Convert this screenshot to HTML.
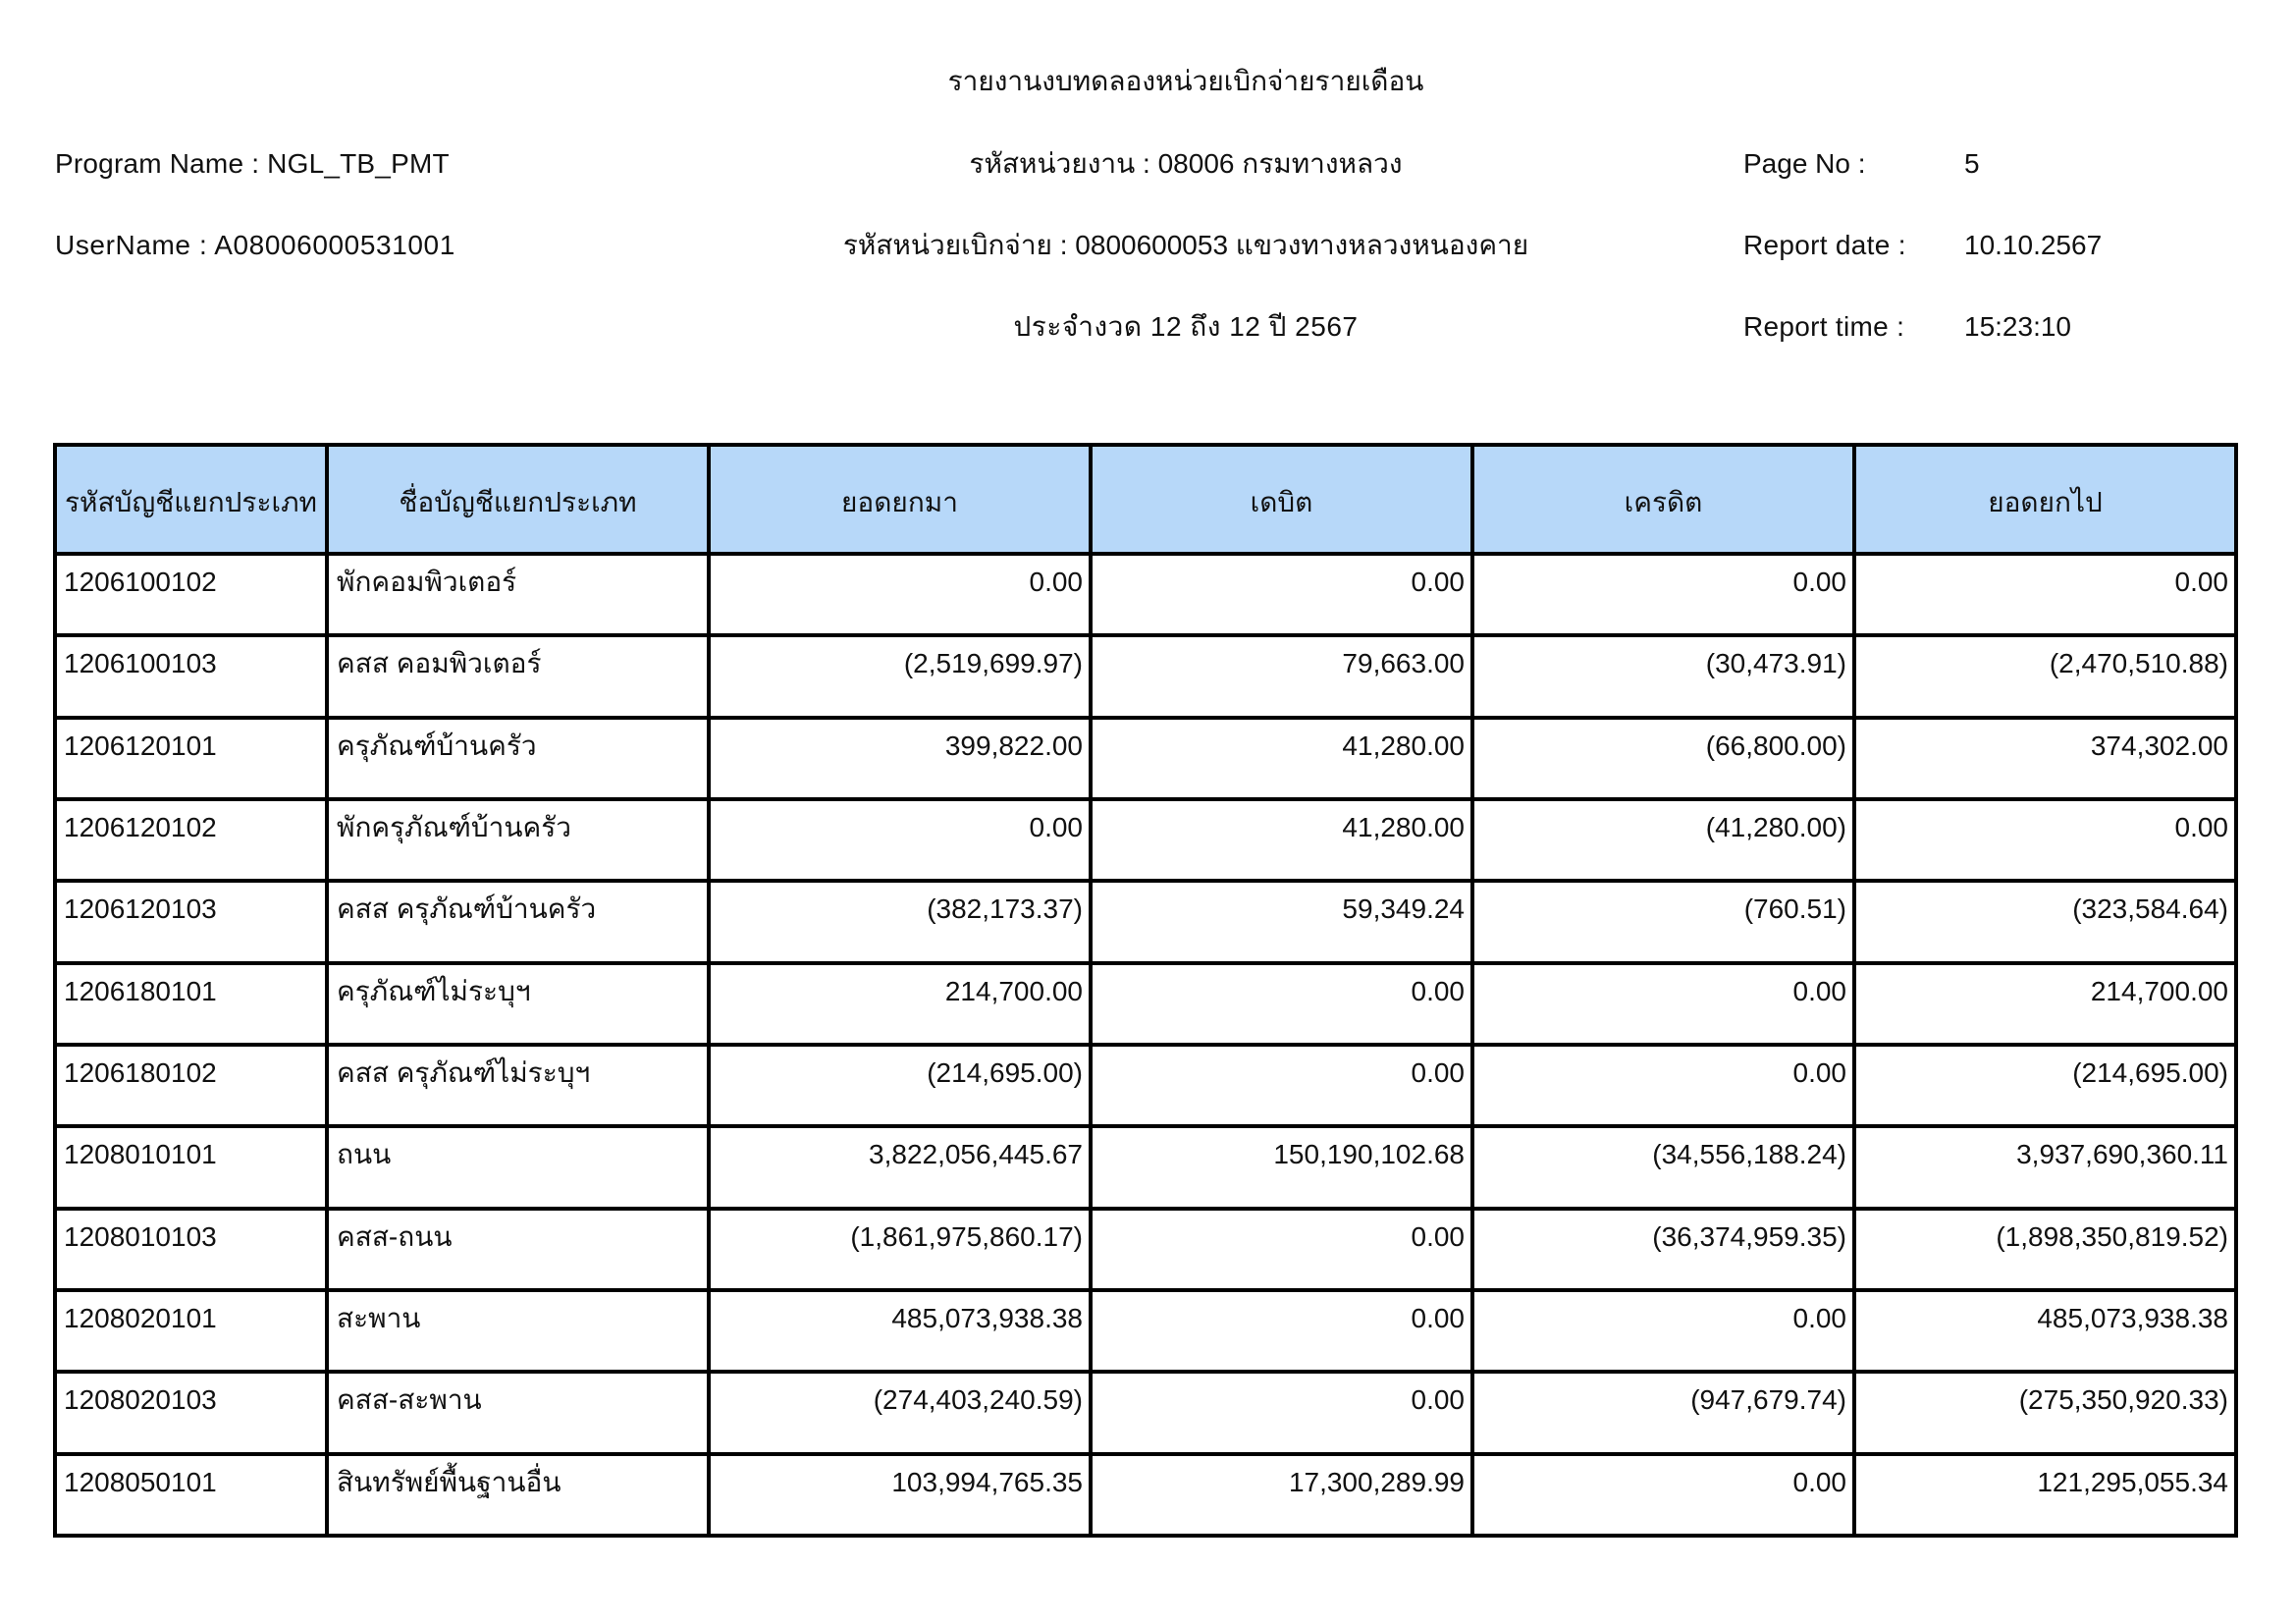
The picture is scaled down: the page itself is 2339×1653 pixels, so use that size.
<!DOCTYPE html>
<html>
<head>
<meta charset="utf-8">
<style>
  html, body { margin:0; padding:0; background:#fff; }
  body { width:2339px; height:1653px; position:relative; overflow:hidden;
         font-family:"Liberation Sans","DejaVu Sans","Noto Sans CJK SC",sans-serif; color:#111; }
  .t { position:absolute; font-size:28px; line-height:32px; white-space:nowrap; }
  .ctr { position:absolute; left:808px; width:800px; text-align:center; font-size:28px; line-height:32px; white-space:nowrap; }
  .hl { position:absolute; left:54px; width:2226px; height:4px; background:#000; }
  .vl { position:absolute; top:451px; width:4px; height:1115px; background:#000; }
  .hdrbg { position:absolute; left:54px; top:451px; width:2226px; height:115px; background:#b7d8f9; }
  .h { position:absolute; top:496px; font-size:28px; line-height:32px; text-align:center; white-space:nowrap; }
  .r { position:absolute; left:0; width:2339px; height:32px; font-size:28px; line-height:32px; }
  .r div { position:absolute; top:0; white-space:nowrap; }
  .c1 { left:65px; }
  .c2 { left:343px; }
  .c3 { left:724px; width:379px; text-align:right; }
  .c4 { left:1113px; width:379px; text-align:right; }
  .c5 { left:1502px; width:379px; text-align:right; }
  .c6 { left:1891px; width:379px; text-align:right; }
</style>
</head>
<body>
  <!-- Top header -->
  <div class="ctr" style="top:67px;">รายงานงบทดลองหน่วยเบิกจ่ายรายเดือน</div>
  <div class="ctr" style="top:151px;">รหัสหน่วยงาน : 08006 กรมทางหลวง</div>
  <div class="ctr" style="top:234px;">รหัสหน่วยเบิกจ่าย : 0800600053 แขวงทางหลวงหนองคาย</div>
  <div class="ctr" style="top:317px; letter-spacing:0.5px;">ประจำงวด 12 ถึง 12 ปี 2567</div>

  <div class="t" style="left:56px; top:151px; letter-spacing:0.2px;">Program Name : NGL_TB_PMT</div>
  <div class="t" style="left:56px; top:234px; letter-spacing:0.6px;">UserName : A08006000531001</div>

  <div class="t" style="left:1776px; top:151px;">Page No :</div>
  <div class="t" style="left:2001px; top:151px;">5</div>
  <div class="t" style="left:1776px; top:234px; letter-spacing:0.3px;">Report date :</div>
  <div class="t" style="left:2001px; top:234px;">10.10.2567</div>
  <div class="t" style="left:1776px; top:317px; letter-spacing:0.3px;">Report time :</div>
  <div class="t" style="left:2001px; top:317px;">15:23:10</div>

  <!-- Table header background -->
  <div class="hdrbg"></div>

  <!-- Header texts -->
  <div class="h" style="left:58px; width:273px;">รหัสบัญชีแยกประเภท</div>
  <div class="h" style="left:335px; width:385px;">ชื่อบัญชีแยกประเภท</div>
  <div class="h" style="left:724px; width:385px;">ยอดยกมา</div>
  <div class="h" style="left:1113px; width:385px;">เดบิต</div>
  <div class="h" style="left:1502px; width:385px;">เครดิต</div>
  <div class="h" style="left:1891px; width:385px;">ยอดยกไป</div>

  <!-- Rows -->
  <div class="r" style="top:577px;"><div class="c1">1206100102</div><div class="c2">พักคอมพิวเตอร์</div><div class="c3">0.00</div><div class="c4">0.00</div><div class="c5">0.00</div><div class="c6">0.00</div></div>
  <div class="r" style="top:660px;"><div class="c1">1206100103</div><div class="c2">คสส คอมพิวเตอร์</div><div class="c3">(2,519,699.97)</div><div class="c4">79,663.00</div><div class="c5">(30,473.91)</div><div class="c6">(2,470,510.88)</div></div>
  <div class="r" style="top:744px;"><div class="c1">1206120101</div><div class="c2">ครุภัณฑ์บ้านครัว</div><div class="c3">399,822.00</div><div class="c4">41,280.00</div><div class="c5">(66,800.00)</div><div class="c6">374,302.00</div></div>
  <div class="r" style="top:827px;"><div class="c1">1206120102</div><div class="c2">พักครุภัณฑ์บ้านครัว</div><div class="c3">0.00</div><div class="c4">41,280.00</div><div class="c5">(41,280.00)</div><div class="c6">0.00</div></div>
  <div class="r" style="top:910px;"><div class="c1">1206120103</div><div class="c2">คสส ครุภัณฑ์บ้านครัว</div><div class="c3">(382,173.37)</div><div class="c4">59,349.24</div><div class="c5">(760.51)</div><div class="c6">(323,584.64)</div></div>
  <div class="r" style="top:994px;"><div class="c1">1206180101</div><div class="c2">ครุภัณฑ์ไม่ระบุฯ</div><div class="c3">214,700.00</div><div class="c4">0.00</div><div class="c5">0.00</div><div class="c6">214,700.00</div></div>
  <div class="r" style="top:1077px;"><div class="c1">1206180102</div><div class="c2">คสส ครุภัณฑ์ไม่ระบุฯ</div><div class="c3">(214,695.00)</div><div class="c4">0.00</div><div class="c5">0.00</div><div class="c6">(214,695.00)</div></div>
  <div class="r" style="top:1160px;"><div class="c1">1208010101</div><div class="c2">ถนน</div><div class="c3">3,822,056,445.67</div><div class="c4">150,190,102.68</div><div class="c5">(34,556,188.24)</div><div class="c6">3,937,690,360.11</div></div>
  <div class="r" style="top:1244px;"><div class="c1">1208010103</div><div class="c2">คสส-ถนน</div><div class="c3">(1,861,975,860.17)</div><div class="c4">0.00</div><div class="c5">(36,374,959.35)</div><div class="c6">(1,898,350,819.52)</div></div>
  <div class="r" style="top:1327px;"><div class="c1">1208020101</div><div class="c2">สะพาน</div><div class="c3">485,073,938.38</div><div class="c4">0.00</div><div class="c5">0.00</div><div class="c6">485,073,938.38</div></div>
  <div class="r" style="top:1410px;"><div class="c1">1208020103</div><div class="c2">คสส-สะพาน</div><div class="c3">(274,403,240.59)</div><div class="c4">0.00</div><div class="c5">(947,679.74)</div><div class="c6">(275,350,920.33)</div></div>
  <div class="r" style="top:1494px;"><div class="c1">1208050101</div><div class="c2">สินทรัพย์พื้นฐานอื่น</div><div class="c3">103,994,765.35</div><div class="c4">17,300,289.99</div><div class="c5">0.00</div><div class="c6">121,295,055.34</div></div>

  <!-- Horizontal lines -->
  <div class="hl" style="top:451px;"></div>
  <div class="hl" style="top:562px;"></div>
  <div class="hl" style="top:645px;"></div>
  <div class="hl" style="top:729px;"></div>
  <div class="hl" style="top:812px;"></div>
  <div class="hl" style="top:895px;"></div>
  <div class="hl" style="top:979px;"></div>
  <div class="hl" style="top:1062px;"></div>
  <div class="hl" style="top:1145px;"></div>
  <div class="hl" style="top:1229px;"></div>
  <div class="hl" style="top:1312px;"></div>
  <div class="hl" style="top:1395px;"></div>
  <div class="hl" style="top:1479px;"></div>
  <div class="hl" style="top:1562px;"></div>

  <!-- Vertical lines -->
  <div class="vl" style="left:54px;"></div>
  <div class="vl" style="left:331px;"></div>
  <div class="vl" style="left:720px;"></div>
  <div class="vl" style="left:1109px;"></div>
  <div class="vl" style="left:1498px;"></div>
  <div class="vl" style="left:1887px;"></div>
  <div class="vl" style="left:2276px;"></div>
</body>
</html>
